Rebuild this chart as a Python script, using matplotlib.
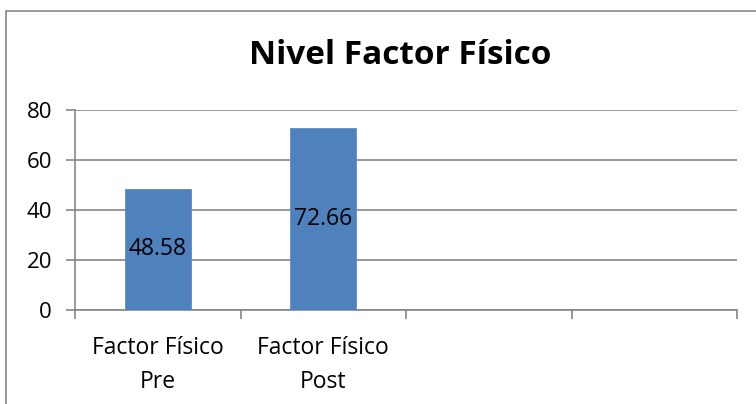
import matplotlib
matplotlib.use("Agg")
import matplotlib.pyplot as plt
from matplotlib.patches import Rectangle

categories = ["Factor Físico\nPre", "Factor Físico\nPost", "", ""]
values = [48.58, 72.66]
y_ticks = [0, 20, 40, 60, 80]
title = "Nivel Factor Físico"

plt.rcParams["font.family"] = ["Open Sans", "DejaVu Sans"]

fig = plt.figure(figsize=(7.56, 4.04), dpi=100)
ax = fig.add_axes([75 / 756, 1 - 310 / 404, (737 - 75) / 756, 200 / 404])

grid_c = "#868686"

# outer chart-area border (only top/left visible in the crop)
fig.patches.append(Rectangle((6 / 756, -0.1), 1.2, 1 - 11 / 404 + 0.1,
                             transform=fig.transFigure, fill=False,
                             edgecolor=grid_c, linewidth=1.2))

x = list(range(len(values)))
bars = ax.bar(x, values, width=0.4, color="#4F81BD", edgecolor="#5B8CC8",
              linewidth=0.6, zorder=3)
for b, v in zip(bars, values):
    ax.text(b.get_x() + b.get_width() / 2, v / 2, f"{v:.2f}",
            ha="center", va="center", fontsize=16.5, color="black", zorder=4)

ax.set_xlim(-0.5, len(categories) - 0.5)
ax.set_ylim(0, 80)
ax.set_yticks(y_ticks)
ax.yaxis.grid(True, color=grid_c, linewidth=1.2, zorder=0)

ax.set_xticks(range(len(categories)))
ax.set_xticklabels(categories, fontsize=16.5, linespacing=1.55)
ax.set_xticks([i - 0.5 for i in range(len(categories) + 1)], minor=True)
ax.tick_params(axis="x", which="major", length=0, pad=19)
ax.tick_params(axis="x", which="minor", length=6.5, width=1.2, color=grid_c)
ax.tick_params(axis="y", length=6.5, width=1.2, color=grid_c, labelsize=16, pad=10)

for s in ["top", "right"]:
    ax.spines[s].set_visible(False)
for s in ["left", "bottom"]:
    ax.spines[s].set_color(grid_c)
    ax.spines[s].set_linewidth(1.2)

fig.text(0.53, 1 - 55 / 404, title, ha="center", va="center",
         fontsize=24, fontweight="bold")

fig.savefig("out.png", dpi=100)
